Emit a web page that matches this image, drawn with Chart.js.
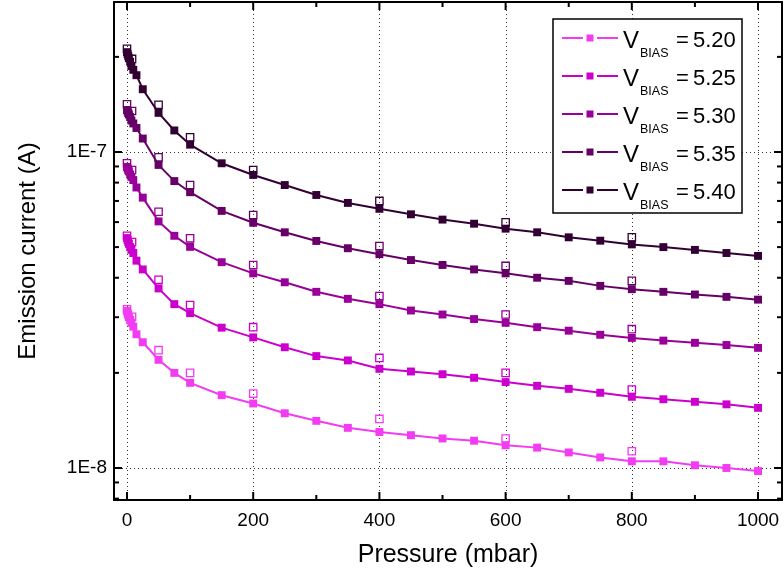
<!DOCTYPE html>
<html>
<head>
<meta charset="utf-8">
<script src="https://cdn.jsdelivr.net/npm/chart.js@4"></script>
<style>
  html, body { margin: 0; padding: 0; background: #fff; }
  #wrap { width: 784px; height: 578px; }
</style>
</head>
<body>
<div id="wrap"><canvas id="chart" width="784" height="578"></canvas></div>
<script>
// pressure in mbar, current in A
const pressure = [0, 1, 2, 3, 5, 7, 10, 15, 25, 50, 75, 100, 150, 200, 250, 300, 350, 400,
    450, 500, 550, 600, 650, 700, 750, 800, 850, 900, 950, 1000];
const pressureOpen = [0, 8, 50, 100, 200, 400, 600, 800];

const biasLevels = ['5.20', '5.25', '5.30', '5.35', '5.40'];
const biasColors = ['#f23cf2', '#cc00cc', '#990099', '#660066', '#330033'];

const current520 = [3.14e-8, 3.09e-8, 3.05e-8, 3.00e-8, 2.94e-8, 2.88e-8, 2.80e-8, 2.65e-8, 2.50e-8,
    2.20e-8, 2.00e-8, 1.86e-8, 1.70e-8, 1.60e-8, 1.49e-8, 1.41e-8, 1.34e-8, 1.30e-8, 1.27e-8,
    1.24e-8, 1.22e-8, 1.18e-8, 1.16e-8, 1.12e-8, 1.08e-8, 1.05e-8, 1.05e-8, 1.02e-8, 1.00e-8, 9.78e-9];
const current525 = [5.34e-8, 5.27e-8, 5.19e-8, 5.12e-8, 5.00e-8, 4.90e-8, 4.79e-8, 4.53e-8, 4.25e-8,
    3.70e-8, 3.30e-8, 3.09e-8, 2.78e-8, 2.59e-8, 2.41e-8, 2.26e-8, 2.19e-8, 2.06e-8, 2.02e-8,
    1.98e-8, 1.93e-8, 1.87e-8, 1.82e-8, 1.78e-8, 1.73e-8, 1.68e-8, 1.65e-8, 1.62e-8, 1.59e-8, 1.55e-8];
const current530 = [8.97e-8, 8.87e-8, 8.77e-8, 8.68e-8, 8.49e-8, 8.34e-8, 8.15e-8, 7.72e-8, 7.17e-8,
    6.03e-8, 5.43e-8, 5.01e-8, 4.48e-8, 4.13e-8, 3.87e-8, 3.61e-8, 3.43e-8, 3.30e-8, 3.15e-8,
    3.06e-8, 2.96e-8, 2.88e-8, 2.79e-8, 2.72e-8, 2.64e-8, 2.58e-8, 2.53e-8, 2.49e-8, 2.45e-8, 2.40e-8];
const current535 = [1.358e-7, 1.343e-7, 1.328e-7, 1.314e-7, 1.29e-7, 1.258e-7, 1.231e-7, 1.191e-7, 1.103e-7,
    9.10e-8, 8.09e-8, 7.46e-8, 6.51e-8, 5.97e-8, 5.57e-8, 5.23e-8, 4.96e-8, 4.75e-8, 4.55e-8,
    4.39e-8, 4.25e-8, 4.13e-8, 4.00e-8, 3.91e-8, 3.77e-8, 3.68e-8, 3.61e-8, 3.54e-8, 3.48e-8, 3.41e-8];
const current540 = [2.07e-7, 2.04e-7, 2.01e-7, 1.98e-7, 1.93e-7, 1.87e-7, 1.82e-7, 1.75e-7, 1.58e-7,
    1.33e-7, 1.17e-7, 1.055e-7, 9.21e-8, 8.46e-8, 7.86e-8, 7.31e-8, 6.90e-8, 6.61e-8, 6.35e-8,
    6.11e-8, 5.93e-8, 5.72e-8, 5.57e-8, 5.37e-8, 5.24e-8, 5.10e-8, 5.00e-8, 4.90e-8, 4.79e-8, 4.69e-8];

// open squares (second measurement)
const open520 = [3.18e-8, 3.01e-8, 2.36e-8, 2.00e-8, 1.72e-8, 1.43e-8, 1.24e-8, 1.13e-8];
const open525 = [5.43e-8, 5.19e-8, 3.94e-8, 3.28e-8, 2.79e-8, 2.23e-8, 2.00e-8, 1.77e-8];
const open530 = [9.21e-8, 8.77e-8, 6.47e-8, 5.33e-8, 4.39e-8, 3.50e-8, 3.06e-8, 2.75e-8];
const open535 = [1.416e-7, 1.348e-7, 9.62e-8, 7.86e-8, 6.32e-8, 5.04e-8, 4.36e-8, 3.91e-8];
const open540 = [2.12e-7, 1.97e-7, 1.41e-7, 1.113e-7, 8.77e-8, 7.00e-8, 5.99e-8, 5.37e-8];

const xMajorTicks = [0, 200, 400, 600, 800, 1000];
const xMinorTicks = [100, 300, 500, 700, 900];
const yMajorTicks = [1e-8, 1e-7];
const yMinorTicks = [8e-9, 9e-9, 2e-8, 3e-8, 4e-8, 5e-8, 6e-8, 7e-8, 8e-8, 9e-8, 2e-7];
const yTickLabels = { '1e-8': '1E-8', '1e-7': '1E-7' };

const FONT = "'Liberation Sans', Arial, sans-serif";

const filledSeries = [current520, current525, current530, current535, current540];
const openSeries = [open520, open525, open530, open535, open540];

const datasets = [];
filledSeries.forEach((vals, i) => {
    datasets.push({
        label: 'V_BIAS = ' + biasLevels[i],
        data: vals.map((v, k) => ({ x: pressure[k], y: v })),
        borderColor: biasColors[i],
        backgroundColor: biasColors[i],
        borderWidth: 2,
        pointStyle: 'rect',
        pointRadius: 5.6,
        pointBorderWidth: 0,
        tension: 0
    });
});
openSeries.forEach((vals, i) => {
    datasets.push({
        label: 'open ' + biasLevels[i],
        data: vals.map((v, k) => ({ x: pressureOpen[k], y: v })),
        showLine: false,
        borderColor: biasColors[i],
        backgroundColor: 'rgba(0,0,0,0)',
        pointStyle: 'rect',
        pointRadius: 5.2,
        pointBorderWidth: 1.3
    });
});

// grid, frame and inward ticks
const framePlugin = {
    id: 'frame',
    beforeDatasetsDraw(chart) {
        const { ctx, chartArea: a, scales: { x, y } } = chart;
        ctx.save();
        ctx.strokeStyle = '#333';
        ctx.lineWidth = 1;
        ctx.setLineDash([1, 3]);
        xMajorTicks.forEach(v => {
            const px = Math.round(x.getPixelForValue(v)) + 0.5;
            ctx.beginPath(); ctx.moveTo(px, a.top); ctx.lineTo(px, a.bottom); ctx.stroke();
        });
        yMajorTicks.forEach(v => {
            const py = Math.round(y.getPixelForValue(v)) + 0.5;
            ctx.beginPath(); ctx.moveTo(a.left, py); ctx.lineTo(a.right, py); ctx.stroke();
        });
        ctx.restore();
    },
    afterDatasetsDraw(chart) {
        const { ctx, chartArea: a, scales: { x, y } } = chart;
        ctx.save();
        ctx.strokeStyle = '#000';
        ctx.lineWidth = 2;
        ctx.strokeRect(a.left, a.top, a.right - a.left, a.bottom - a.top);
        const tick = (x1, y1, x2, y2) => { ctx.beginPath(); ctx.moveTo(x1, y1); ctx.lineTo(x2, y2); ctx.stroke(); };
        xMajorTicks.forEach(v => {
            const px = x.getPixelForValue(v);
            tick(px, a.bottom, px, a.bottom - 8);
            tick(px, a.top, px, a.top + 8);
        });
        xMinorTicks.forEach(v => {
            const px = x.getPixelForValue(v);
            tick(px, a.bottom, px, a.bottom - 5);
            tick(px, a.top, px, a.top + 5);
        });
        yMajorTicks.forEach(v => {
            const py = y.getPixelForValue(v);
            tick(a.left, py, a.left + 8, py);
            tick(a.right, py, a.right - 8, py);
        });
        yMinorTicks.forEach(v => {
            const py = y.getPixelForValue(v);
            tick(a.left, py, a.left + 5, py);
            tick(a.right, py, a.right - 5, py);
        });
        ctx.restore();
    }
};

const legendPlugin = {
    id: 'biasLegend',
    afterDraw(chart) {
        const ctx = chart.ctx;
        ctx.save();
        ctx.fillStyle = '#fff';
        ctx.fillRect(553, 19, 189, 194);
        ctx.strokeStyle = '#000';
        ctx.lineWidth = 1.5;
        ctx.strokeRect(553, 19, 189, 194);
        biasLevels.forEach((b, i) => {
            const cy = 38 + i * 38;
            ctx.strokeStyle = biasColors[i];
            ctx.fillStyle = biasColors[i];
            ctx.lineWidth = 2;
            ctx.beginPath();
            ctx.moveTo(562, cy); ctx.lineTo(583, cy);
            ctx.moveTo(597, cy); ctx.lineTo(618, cy);
            ctx.stroke();
            ctx.fillRect(586.5, cy - 3.5, 7, 7);
            ctx.fillStyle = '#000';
            ctx.textBaseline = 'alphabetic';
            ctx.textAlign = 'left';
            ctx.font = '24px ' + FONT;
            ctx.fillText('V', 623, cy + 10);
            ctx.font = '12.5px ' + FONT;
            ctx.fillText('BIAS', 640, cy + 19);
            ctx.font = '22px ' + FONT;
            ctx.fillText('=', 676, cy + 9);
            ctx.fillText(b, 693, cy + 9);
        });
        ctx.restore();
    }
};

new Chart(document.getElementById('chart'), {
    type: 'line',
    data: { datasets },
    plugins: [framePlugin, legendPlugin],
    options: {
        responsive: false,
        animation: false,
        devicePixelRatio: 1,
        layout: { autoPadding: false, padding: { top: 2, right: 2, left: 0, bottom: 0 } },
        plugins: { legend: { display: false }, tooltip: { enabled: false } },
        scales: {
            x: {
                type: 'linear',
                min: -20.6,
                max: 1038,
                afterBuildTicks: s => { s.ticks = xMajorTicks.map(v => ({ value: v })); },
                afterFit: s => { s.height = 78; s.paddingLeft = 0; s.paddingRight = 0; },
                grid: { display: false, drawTicks: false },
                border: { display: false },
                ticks: {
                    color: '#000', font: { family: FONT, size: 19 }, padding: 9, maxRotation: 0,
                    callback: v => String(v)
                },
                title: {
                    display: true, text: 'Pressure (mbar)', color: '#000',
                    font: { family: FONT, size: 25 }, padding: { top: 0, bottom: 8 }
                }
            },
            y: {
                type: 'logarithmic',
                min: 7.92e-9,
                max: 2.983e-7,
                afterBuildTicks: s => { s.ticks = yMajorTicks.map(v => ({ value: v })); },
                afterFit: s => { s.width = 114; s.paddingTop = 0; s.paddingBottom = 0; },
                grid: { display: false, drawTicks: false },
                border: { display: false },
                ticks: {
                    color: '#000', font: { family: FONT, size: 19 }, padding: 7,
                    callback: v => yTickLabels[String(v)] || ''
                },
                title: {
                    display: true, text: 'Emission current (A)', color: '#000',
                    font: { family: FONT, size: 24 }, padding: { top: 14, bottom: 0 }
                }
            }
        }
    }
});
</script>
</body>
</html>
